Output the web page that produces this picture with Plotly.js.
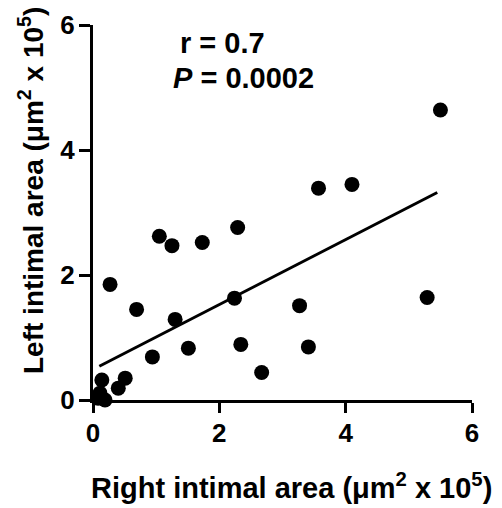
<!DOCTYPE html>
<html>
<head>
<meta charset="utf-8">
<script src="https://cdn.plot.ly/plotly-3.0.1.min.js"></script>
<style>html,body{margin:0;padding:0;background:#fff;}#chart{width:502px;height:508px;}</style>
</head>
<body>
<div id="chart"></div>
<script>
// Right intimal area (x, µm² x 10^5) vs Left intimal area (y)
const rightArea = [5.50, 3.57, 4.10, 2.29, 1.05, 1.25, 1.73, 0.27, 0.69, 2.24, 3.27, 5.29, 1.30, 1.51, 2.34, 3.41, 0.94, 2.67, 0.51, 0.14, 0.40, 0.11, 0.08, 0.19];
const leftArea  = [4.64, 3.39, 3.45, 2.76, 2.62, 2.47, 2.52, 1.85, 1.45, 1.63, 1.51, 1.64, 1.29, 0.83, 0.89, 0.85, 0.69, 0.44, 0.35, 0.32, 0.19, 0.11, 0.03, 0.00];
// regression line
const fitX = [0.10, 5.45];
const fitY = [0.54, 3.32];
const tickVals = [0, 2, 4, 6];
const tickText = ['0', '2', '4', '6'];
const statR = 'r = 0.7';
const statP = '<i>P</i> = 0.0002';
const xTitle = 'Right intimal area (\u03bcm<sup>2</sup> x 10<sup>5</sup>)';
const yTitle = 'Left intimal area (\u03bcm<sup>2</sup> x 10<sup>5</sup>)';

const fontFam = '"Liberation Sans", Arial, sans-serif';

const traces = [
  {
    x: rightArea, y: leftArea, type: 'scatter', mode: 'markers',
    marker: {color: '#000', size: 15, line: {width: 0}},
    cliponaxis: false, hoverinfo: 'x+y'
  },
  {
    x: fitX, y: fitY, type: 'scatter', mode: 'lines',
    line: {color: '#000', width: 3}, cliponaxis: false
  }
];

const axisCommon = {
  range: [0, 6], tickvals: tickVals, ticktext: tickText,
  showgrid: false, zeroline: false, showline: true,
  linecolor: '#000', linewidth: 3,
  ticks: 'outside', tickwidth: 3, tickcolor: '#000',
  tickfont: {family: fontFam, size: 26, color: '#000', weight: 'bold'},
  fixedrange: true
};

const layout = {
  width: 502, height: 508,
  margin: {l: 93, r: 30, t: 25, b: 108},
  paper_bgcolor: '#fff', plot_bgcolor: '#fff',
  showlegend: false,
  xaxis: Object.assign({}, axisCommon, {ticklen: 10, ticklabelstandoff: -2}),
  yaxis: Object.assign({}, axisCommon, {ticklen: 11, ticklabelstandoff: -1}),
  font: {family: fontFam, color: '#000'},
  annotations: [
    {text: statR, xref: 'paper', yref: 'paper', x: (222-93)/379, y: (400-43)/375,
     xanchor: 'center', yanchor: 'middle', showarrow: false,
     font: {family: fontFam, size: 29, color: '#000', weight: 'bold'}},
    {text: statP, xref: 'paper', yref: 'paper', x: (243-93)/379, y: (400-78)/375,
     xanchor: 'center', yanchor: 'middle', showarrow: false,
     font: {family: fontFam, size: 29, color: '#000', weight: 'bold'}},
    {text: xTitle, xref: 'paper', yref: 'paper', x: (291-93)/379, y: (400-486)/375,
     xanchor: 'center', yanchor: 'middle', showarrow: false,
     font: {family: fontFam, size: 29, color: '#000', weight: 'bold'}},
    {text: yTitle, xref: 'paper', yref: 'paper', x: (31-93)/379, y: (400-191)/375,
     xanchor: 'center', yanchor: 'middle', showarrow: false, textangle: -90,
     font: {family: fontFam, size: 28, color: '#000', weight: 'bold'}}
  ]
};

Plotly.newPlot('chart', traces, layout, {displayModeBar: false, staticPlot: true});
</script>
</body>
</html>
